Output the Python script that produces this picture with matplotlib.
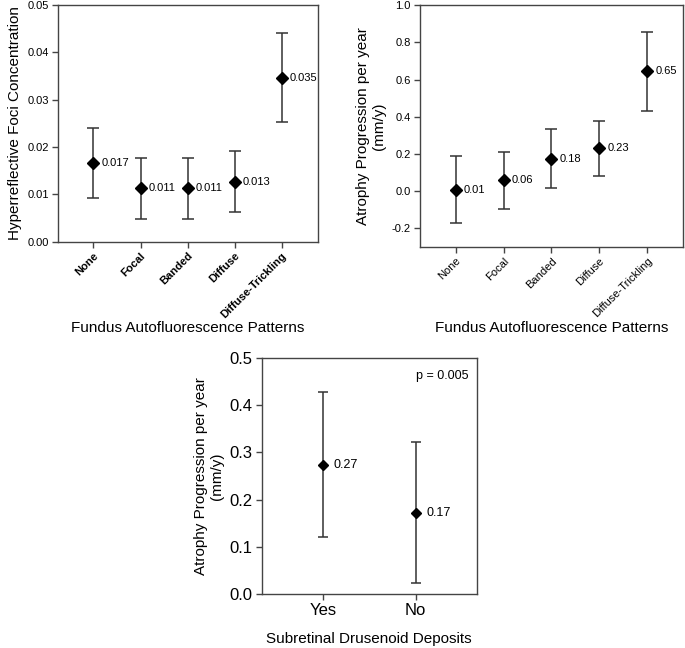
import numpy as np
import matplotlib.pyplot as plt

plt.rcParams['font.family'] = ['Liberation Sans', 'DejaVu Sans']

# panel A: hyperreflective foci by FAF pattern
faf_cats = ['None', 'Focal', 'Banded', 'Diffuse', 'Diffuse-Trickling']
hf_mean = [0.0167, 0.0113, 0.0113, 0.0127, 0.0347]
hf_low = [0.0092, 0.0049, 0.0049, 0.0062, 0.0252]
hf_high = [0.0241, 0.0178, 0.0178, 0.0192, 0.0442]
hf_text = ['0.017', '0.011', '0.011', '0.013', '0.035']

# panel B: atrophy progression by FAF pattern
ap_mean = [0.008, 0.058, 0.175, 0.230, 0.645]
ap_low = [-0.170, -0.095, 0.015, 0.080, 0.433]
ap_high = [0.188, 0.210, 0.335, 0.378, 0.857]
ap_text = ['0.01', '0.06', '0.18', '0.23', '0.65']

# panel C: atrophy progression by SDD
sdd_cats = ['Yes', 'No']
sdd_mean = [0.273, 0.172]
sdd_low = [0.120, 0.024]
sdd_high = [0.428, 0.321]
sdd_text = ['0.27', '0.17']

ecol = '#333333'


def draw_panel(ax, cats, mean, low, high, text, cap=4.5, ms=6, off=6, fs=8):
    x = np.arange(len(cats))
    mean = np.array(mean)
    err = [mean - np.array(low), np.array(high) - mean]
    ax.errorbar(x, mean, yerr=err, fmt='none', ecolor=ecol, elinewidth=1.1,
                capsize=cap, capthick=1.1, zorder=2)
    ax.plot(x, mean, 'D', color='black', markersize=ms, zorder=3)
    for xi, yi, t in zip(x, mean, text):
        ax.annotate(t, (xi, yi), xytext=(off, 0), textcoords='offset points',
                    va='center', ha='left', fontsize=fs)
    for s in ax.spines.values():
        s.set_color('#444444')
        s.set_linewidth(1.0)
    ax.tick_params(direction='out', length=4, color='#444444', width=1.0, pad=2.5)
    ax.set_xticks(x)
    return x


fig = plt.figure(figsize=(6.85, 6.48), dpi=100)

ax1 = fig.add_axes([0.085, 0.627, 0.379, 0.365])
draw_panel(ax1, faf_cats, hf_mean, hf_low, hf_high, hf_text)
ax1.set_xlim(-0.75, 4.77)
ax1.set_ylim(0, 0.05)
ax1.set_yticks([0, 0.01, 0.02, 0.03, 0.04, 0.05])
ax1.set_yticklabels(['0.00', '0.01', '0.02', '0.03', '0.04', '0.05'], fontsize=8)
ax1.set_xticklabels(faf_cats, rotation=45, ha='right', rotation_mode='anchor',
                    fontsize=8, fontweight='bold')
ax1.set_ylabel('Hyperreflective Foci Concentration', fontsize=11)
ax1.set_xlabel('Fundus Autofluorescence Patterns', fontsize=11, labelpad=1)

ax2 = fig.add_axes([0.613, 0.619, 0.384, 0.373])
draw_panel(ax2, faf_cats, ap_mean, ap_low, ap_high, ap_text)
ax2.set_xlim(-0.75, 4.75)
ax2.set_ylim(-0.3, 1.0)
ax2.set_yticks([-0.2, 0, 0.2, 0.4, 0.6, 0.8, 1.0])
ax2.set_yticklabels(['-0.2', '0.0', '0.2', '0.4', '0.6', '0.8', '1.0'], fontsize=8)
ax2.set_xticklabels(faf_cats, rotation=45, ha='right', rotation_mode='anchor',
                    fontsize=8)
ax2.set_ylabel('Atrophy Progression per year\n(mm/y)', fontsize=11)
ax2.set_xlabel('Fundus Autofluorescence Patterns', fontsize=11, labelpad=1)

ax3 = fig.add_axes([0.382, 0.083, 0.314, 0.365])
draw_panel(ax3, sdd_cats, sdd_mean, sdd_low, sdd_high, sdd_text,
           cap=3.8, ms=5.5, off=8, fs=9)
ax3.set_xlim(-0.66, 1.66)
ax3.set_ylim(0, 0.5)
ax3.set_yticks([0, 0.1, 0.2, 0.3, 0.4, 0.5])
ax3.set_yticklabels(['0.0', '0.1', '0.2', '0.3', '0.4', '0.5'], fontsize=12)
ax3.set_xticklabels(sdd_cats, fontsize=12)
ax3.set_ylabel('Atrophy Progression per year\n(mm/y)', fontsize=11)
ax3.set_xlabel('Subretinal Drusenoid Deposits', fontsize=11, labelpad=10)
ax3.text(0.96, 0.95, 'p = 0.005', transform=ax3.transAxes, ha='right',
         va='top', fontsize=9)

fig.savefig('out.png', dpi=100, facecolor='white')
